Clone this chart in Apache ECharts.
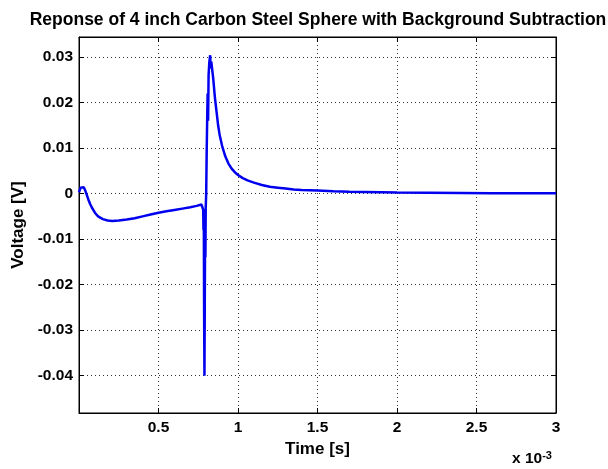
<!DOCTYPE html>
<html>
<head>
<meta charset="utf-8">
<script src="https://cdn.jsdelivr.net/npm/echarts@6/dist/echarts.min.js"></script>
<style>html,body{margin:0;padding:0;background:#fff}#c{width:608px;height:469px}</style>
</head>
<body>
<div id="c"></div>
<script>
// time in units of 1e-3 s
var timeMs = [0, 0.01, 0.02, 0.03, 0.04, 0.05, 0.06, 0.07, 0.08, 0.10, 0.12, 0.15, 0.18, 0.21, 0.25, 0.30, 0.35, 0.40, 0.45, 0.50, 0.55, 0.60, 0.65, 0.70, 0.74, 0.77, 0.778,
  0.781, 0.783, 0.785, 0.787, 0.789, 0.791, 0.793, 0.795, 0.797, 0.800, 0.803, 0.806, 0.809, 0.812, 0.815, 0.820, 0.825, 0.828, 0.832, 0.838, 0.845, 0.855, 0.865, 0.875, 0.885, 0.900, 0.920, 0.940, 0.960, 0.980,
  1.00, 1.03, 1.06, 1.10, 1.15, 1.20, 1.25, 1.30, 1.35, 1.40, 1.50, 1.60, 1.70, 1.80, 1.90, 2.00, 2.20, 2.40, 2.60, 2.80, 3.00];
var voltage = [0.0003, 0.0013, 0.0017, 0.0014, 0.0006, -0.0004, -0.0014, -0.0023, -0.0030, -0.0042, -0.0050, -0.0056, -0.0059, -0.0060, -0.0059, -0.0057, -0.0054, -0.0050, -0.0046, -0.0042, -0.0039, -0.0036, -0.0033, -0.0030, -0.0027, -0.0024, -0.0021,
  -0.0035, -0.0080, -0.0060, -0.0270, -0.0400, -0.0250, -0.0080, -0.0140, -0.0030, 0.0000, 0.0090, 0.0160, 0.0220, 0.0160, 0.0260, 0.0290, 0.0304, 0.0275, 0.0290, 0.0272, 0.0250, 0.0210, 0.0180, 0.0150, 0.0128, 0.0105, 0.0082, 0.0066, 0.0055, 0.0047,
  0.0041, 0.0034, 0.0029, 0.0024, 0.0019, 0.0015, 0.0013, 0.0011, 0.0009, 0.0008, 0.0007, 0.0005, 0.0004, 0.00035, 0.0003, 0.00025, 0.0002, 0.00015, 0.0001, 0.0001, 0.0001];
var yTickValues = [-0.04, -0.03, -0.02, -0.01, 0, 0.01, 0.02, 0.03];
var yTickLabels = ['-0.04', '-0.03', '-0.02', '-0.01', '0', '0.01', '0.02', '0.03'];
var xTickLabels = ['', '0.5', '1', '1.5', '2', '2.5', '3'];

var points = timeMs.map(function (t, i) { return [t, voltage[i]]; });
var FONT = 'Liberation Sans, Arial, sans-serif';
var gridLine = { show: true, lineStyle: { color: '#000', width: 1, type: [1, 3], opacity: 0.8 } };

var chart = echarts.init(document.getElementById('c'), null, { renderer: 'canvas' });
chart.setOption({
  animation: false,
  backgroundColor: '#fff',
  title: {
    text: 'Reponse of 4 inch Carbon Steel Sphere with Background Subtraction',
    left: 313, top: 6, textAlign: 'center',
    textStyle: { fontFamily: FONT, fontWeight: 'bold', fontSize: 17.5, color: '#000' }
  },
  grid: { left: 79, right: 52, top: 37, bottom: 56, show: true, borderColor: '#000', borderWidth: 1, backgroundColor: '#fff' },
  xAxis: [{
    type: 'value', min: 0, max: 3, interval: 0.5,
    name: 'Time [s]', nameLocation: 'middle', nameGap: 21,
    nameTextStyle: { fontFamily: FONT, fontWeight: 'bold', fontSize: 17, color: '#000' },
    axisLine: { show: true, onZero: false, lineStyle: { color: '#000' } },
    axisTick: { show: true, inside: true, length: 5, lineStyle: { color: '#000' } },
    axisLabel: { margin: 7, fontFamily: FONT, fontWeight: 'bold', fontSize: 15.5, color: '#000',
      formatter: function (v) { return xTickLabels[Math.round(v / 0.5)] || ''; } },
    splitLine: gridLine
  }, {
    type: 'value', min: 0, max: 3, interval: 0.5, position: 'top',
    axisLine: { show: true, onZero: false, lineStyle: { color: '#000' } },
    axisTick: { show: true, inside: true, length: 5, lineStyle: { color: '#000' } },
    axisLabel: { show: false }, splitLine: { show: false }
  }],
  yAxis: [{
    type: 'value', min: -0.0482, max: 0.0344,
    name: 'Voltage [V]', nameLocation: 'middle', nameGap: 50, nameRotate: 90,
    nameTextStyle: { fontFamily: FONT, fontWeight: 'bold', fontSize: 17, color: '#000' },
    axisLine: { show: true, onZero: false, lineStyle: { color: '#000' } },
    axisTick: { show: true, inside: true, length: 5, lineStyle: { color: '#000' }, customValues: yTickValues },
    axisLabel: { margin: 6, fontFamily: FONT, fontWeight: 'bold', fontSize: 15.5, color: '#000', customValues: yTickValues,
      formatter: function (v) { var i = yTickValues.indexOf(v); return i >= 0 ? yTickLabels[i] : String(v); } },
    splitLine: gridLine
  }, {
    type: 'value', min: -0.0482, max: 0.0344, position: 'right',
    axisLine: { show: true, onZero: false, lineStyle: { color: '#000' } },
    axisTick: { show: true, inside: true, length: 5, lineStyle: { color: '#000' }, customValues: yTickValues },
    axisLabel: { show: false, customValues: yTickValues }, splitLine: { show: false }
  }],
  graphic: [{
    type: 'text', left: 512, top: 444,
    style: { text: '{a|x 10}{b|-3}', rich: {
      a: { fontFamily: FONT, fontWeight: 'bold', fontSize: 15.5, color: '#000', verticalAlign: 'bottom', lineHeight: 17, padding: [7, 0, 0, 0] },
      b: { fontFamily: FONT, fontWeight: 'bold', fontSize: 11, color: '#000', verticalAlign: 'top', lineHeight: 11 } } }
  }],
  series: [{
    type: 'line', data: points, xAxisIndex: 0, yAxisIndex: 0,
    showSymbol: false, symbol: 'none', smooth: false,
    lineStyle: { color: '#0000ee', width: 2.5 }, clip: true
  }]
});
</script>
</body>
</html>
